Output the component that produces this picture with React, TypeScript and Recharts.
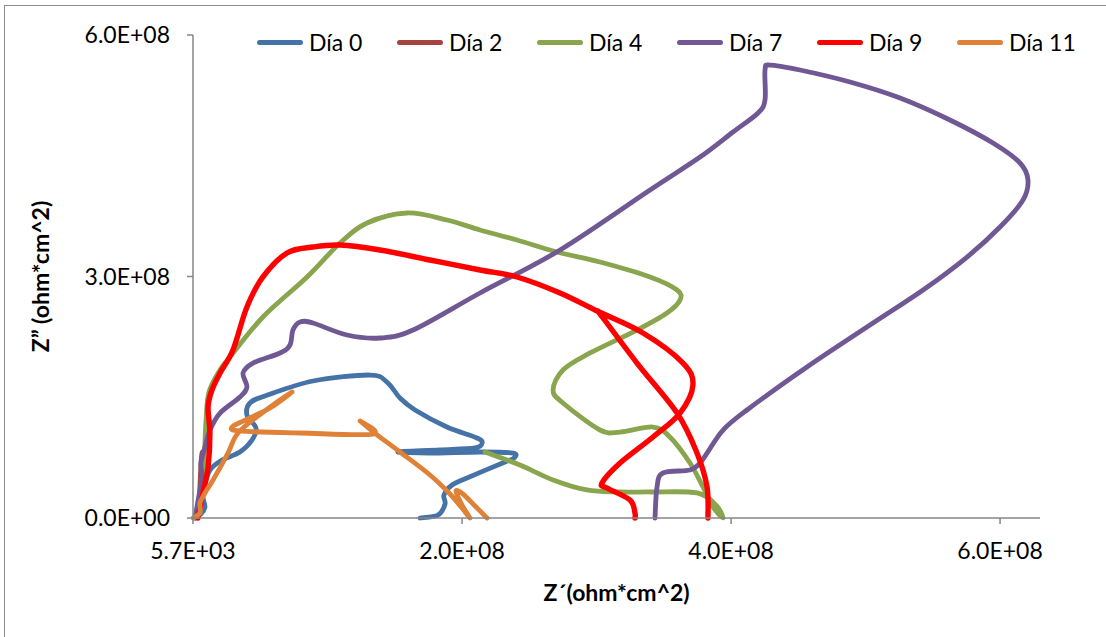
import { LineChart, Line, XAxis, YAxis, Legend } from 'recharts';

type P = [number, number];

// Z' , Z'' pairs, in units of 1E+08 ohm*cm^2
const dia0: P[] = [
  [0.015, 0], [0.059, 0.05], [0.089, 0.137], [0.074, 0.261], [0.089, 0.41], [0.126, 0.596],
  [0.216, 0.72], [0.349, 0.82], [0.439, 0.969], [0.468, 1.118], [0.401, 1.28], [0.424, 1.429],
  [0.535, 1.516], [0.892, 1.702], [1.316, 1.776], [1.442, 1.689], [1.539, 1.491], [1.651, 1.342],
  [1.888, 1.13], [2.112, 0.994], [2.149, 0.932], [2.097, 0.87], [1.836, 0.845], [1.524, 0.82],
  [1.762, 0.807], [2.134, 0.82], [2.379, 0.807], [2.387, 0.745], [2.32, 0.696], [2.037, 0.497],
  [1.926, 0.41], [1.866, 0.286], [1.874, 0.174], [1.822, 0.037], [1.688, 0],
];
const dia2: P[] = [
  [0.022, 0], [0.045, 0.199], [0.052, 0.41], [0.059, 0.658], [0.067, 0.807], [0.082, 0.82],
];
const dia4: P[] = [
  [0.015, 0], [0.052, 0.286], [0.082, 0.72], [0.097, 1.217], [0.119, 1.565], [0.201, 1.839],
  [0.275, 2.0], [0.52, 2.497], [0.848, 2.994], [1.093, 3.416], [1.294, 3.665], [1.591, 3.789],
  [1.888, 3.702], [2.134, 3.578], [2.409, 3.453], [2.706, 3.304], [3.026, 3.18], [3.398, 2.994],
  [3.599, 2.832], [3.621, 2.708], [3.524, 2.547], [3.301, 2.335], [2.952, 2.05], [2.751, 1.839],
  [2.677, 1.59], [2.751, 1.429], [3.026, 1.093], [3.175, 1.068], [3.42, 1.13], [3.546, 1.006],
  [3.695, 0.683], [3.792, 0.385], [3.866, 0.137], [3.941, 0], [3.888, 0.161], [3.747, 0.311],
  [3.42, 0.323], [3.175, 0.323], [2.929, 0.348], [2.677, 0.472], [2.431, 0.658], [2.171, 0.82],
];
const dia7: P[] = [
  [0.015, 0], [0.045, 0.286], [0.067, 0.509], [0.059, 0.683], [0.089, 0.882], [0.126, 1.093],
  [0.201, 1.304], [0.349, 1.503], [0.401, 1.627], [0.372, 1.801], [0.446, 1.925], [0.647, 2.05],
  [0.721, 2.149], [0.743, 2.335], [0.796, 2.435], [0.892, 2.422], [1.145, 2.273], [1.39, 2.236],
  [1.636, 2.335], [2.134, 2.795], [2.729, 3.329], [3.398, 4.075], [3.77, 4.484], [4.015, 4.795],
  [4.201, 5.031], [4.253, 5.193], [4.253, 5.565], [4.29, 5.627], [4.513, 5.565], [4.885, 5.416],
  [5.257, 5.217], [5.628, 4.944], [5.948, 4.658], [6.149, 4.41], [6.208, 4.199], [6.171, 3.95],
  [6.0, 3.615], [5.755, 3.242], [5.428, 2.832], [5.056, 2.422], [4.565, 1.876], [4.119, 1.342],
  [3.941, 1.093], [3.822, 0.807], [3.77, 0.683], [3.695, 0.596], [3.494, 0.559], [3.45, 0.385],
  [3.435, 0],
];
const dia9: P[] = [
  [0.037, 0], [0.074, 0.311], [0.112, 0.634], [0.126, 1.056], [0.112, 1.379], [0.141, 1.59],
  [0.201, 1.801], [0.297, 2.087], [0.401, 2.621], [0.52, 2.994], [0.699, 3.292], [0.892, 3.366],
  [1.093, 3.391], [1.39, 3.329], [1.762, 3.205], [2.134, 3.081], [2.409, 2.994], [2.729, 2.795],
  [3.004, 2.571], [3.346, 2.298], [3.643, 1.925], [3.717, 1.652], [3.621, 1.304], [3.42, 1.006],
  [3.175, 0.683], [3.041, 0.435], [3.078, 0.373], [3.249, 0.224], [3.286, 0.062], [3.286, 0],
];
const dia9Branch: P[] = [
  [3.011, 2.571], [3.301, 1.925], [3.599, 1.304], [3.747, 0.807], [3.822, 0.385], [3.829, 0],
];
const dia11: P[] = [
  [0.001, 0], [0.052, 0.062], [0.052, 0.186], [0.089, 0.311], [0.149, 0.472], [0.26, 0.807],
  [0.335, 1.056], [0.513, 1.304], [0.736, 1.565], [0.572, 1.366], [0.387, 1.217], [0.29, 1.13],
  [0.349, 1.081], [0.796, 1.056], [1.338, 1.043], [1.242, 1.205], [1.361, 1.043], [1.539, 0.82],
  [1.762, 0.534], [1.911, 0.298], [2.0, 0.124], [2.059, 0], [2.0, 0.161], [1.955, 0.335],
  [2.007, 0.298], [2.097, 0.149], [2.186, 0],
];

const xTicks = [5.7e3, 2.00057e8, 4.00057e8, 6.00057e8];
const yTicks = [0, 3e8, 6e8];
const X_MIN = 5.7e3;
const X_MAX = 6.2975e8;

const FONT = 'Lato, "Open Sans", sans-serif';
const AXIS = '#868686';

const toRows = (...parts: P[][]) => {
  const rows: { x: number; y: number | null }[] = [];
  parts.forEach((pts, i) => {
    if (i > 0) rows.push({ x: X_MIN + pts[0][0] * 1e8, y: null });
    pts.forEach(([x, y]) => rows.push({ x: X_MIN + x * 1e8, y: y * 1e8 }));
  });
  return rows;
};

const series = [
  { name: 'Día 0', color: '#4572A7', width: 4.8, rows: toRows(dia0) },
  { name: 'Día 2', color: '#A5433F', width: 4.8, rows: toRows(dia2) },
  { name: 'Día 4', color: '#89A54E', width: 4.8, rows: toRows(dia4) },
  { name: 'Día 7', color: '#6F5894', width: 4.8, rows: toRows(dia7) },
  { name: 'Día 9', color: '#FF0000', width: 5.4, rows: toRows(dia9, dia9Branch) },
  { name: 'Día 11', color: '#DF8238', width: 4.8, rows: toRows(dia11) },
];
const order = series.map((s) => s.name);

const sci = (v: number) => {
  const [m, e] = v.toExponential(1).split('e');
  const n = parseInt(e, 10);
  return `${m}E${n < 0 ? '-' : '+'}${String(Math.abs(n)).padStart(2, '0')}`;
};

// Excel-like smoothed line (Catmull-Rom through the points)
class SmoothCurve {
  ctx: any;
  pts: number[][] = [];
  constructor(ctx: any) {
    this.ctx = ctx;
  }
  areaStart() {}
  areaEnd() {}
  lineStart() {
    this.pts = [];
  }
  point(x: number, y: number) {
    this.pts.push([+x, +y]);
  }
  lineEnd() {
    const p = this.pts;
    const n = p.length;
    if (!n) return;
    this.ctx.moveTo(p[0][0], p[0][1]);
    for (let i = 0; i < n - 1; i++) {
      const p0 = p[Math.max(i - 1, 0)];
      const p1 = p[i];
      const p2 = p[i + 1];
      const p3 = p[Math.min(i + 2, n - 1)];
      this.ctx.bezierCurveTo(
        p1[0] + (p2[0] - p0[0]) / 6,
        p1[1] + (p2[1] - p0[1]) / 6,
        p2[0] - (p3[0] - p1[0]) / 6,
        p2[1] - (p3[1] - p1[1]) / 6,
        p2[0],
        p2[1]
      );
    }
  }
}
const excelCurve: any = (ctx: any) => new SmoothCurve(ctx);

const renderLegend = (props: any) => {
  const items = [...(props.payload || [])].sort(
    (a: any, b: any) => order.indexOf(a.value) - order.indexOf(b.value)
  );
  return (
    <div style={{ display: 'flex', fontFamily: FONT, fontSize: 23, color: '#000' }}>
      {items.map((e: any) => (
        <div key={e.value} style={{ width: 140, display: 'flex', alignItems: 'center' }}>
          <span
            style={{ display: 'inline-block', width: 46, height: 5, borderRadius: 3, background: e.color, marginRight: 6 }}
          />
          <span>{e.value}</span>
        </div>
      ))}
    </div>
  );
};

export default function App() {
  return (
    <div style={{ position: 'absolute', left: 0, top: 0, width: 1106, height: 637, overflow: 'hidden', background: '#fff' }}>
      <div
        style={{ position: 'absolute', left: 4, top: 5, width: 1200, height: 700, border: '1px solid #8c8c8c' }}
      />
      <div style={{ position: 'absolute', left: 0, top: 0 }}>
        <LineChart width={1106} height={637} margin={{ top: 35, right: 66, bottom: 0, left: 0 }}>
          <XAxis
            type="number"
            dataKey="x"
            scale="linear"
            domain={[X_MIN, X_MAX]}
            ticks={xTicks}
            tickFormatter={sci}
            height={119}
            stroke={AXIS}
            strokeWidth={1.5}
            tickSize={6}
            tickMargin={19}
            tick={{ fill: '#000', fontFamily: FONT, fontSize: 23 }}
            label={{
              content: ({ viewBox }: any) => (
                <text
                  x={viewBox.x + viewBox.width / 2}
                  y={viewBox.y + 74}
                  textAnchor="middle"
                  dominantBaseline="central"
                  fontFamily={FONT}
                  fontSize={23}
                  fontWeight="bold"
                  fill="#000"
                >
                  Z´(ohm*cm^2)
                </text>
              ),
            }}
          />
          <YAxis
            type="number"
            dataKey="y"
            scale="linear"
            domain={[0, 6e8]}
            ticks={yTicks}
            tickFormatter={sci}
            width={193}
            stroke={AXIS}
            strokeWidth={1.5}
            tickSize={6}
            tickMargin={17}
            tick={{ fill: '#000', fontFamily: FONT, fontSize: 23 }}
            label={{
              content: ({ viewBox }: any) => {
                const cx = viewBox.x + 40;
                const cy = viewBox.y + viewBox.height / 2;
                return (
                  <text
                    x={cx}
                    y={cy}
                    transform={`rotate(-90 ${cx} ${cy})`}
                    textAnchor="middle"
                    dominantBaseline="central"
                    fontFamily={FONT}
                    fontSize={23}
                    fontWeight="bold"
                    fill="#000"
                  >
                    Z” (ohm*cm^2)
                  </text>
                );
              },
            }}
          />
          <Legend
            layout="horizontal"
            verticalAlign="middle"
            align="center"
            wrapperStyle={{ top: 28, left: 257, width: 860 }}
            content={renderLegend}
          />
          {series.map((s) => (
            <Line
              key={s.name}
              name={s.name}
              data={s.rows}
              dataKey="y"
              type={excelCurve}
              stroke={s.color}
              strokeWidth={s.width}
              strokeLinecap="round"
              strokeLinejoin="round"
              dot={false}
              activeDot={false}
              isAnimationActive={false}
            />
          ))}
        </LineChart>
      </div>
    </div>
  );
}
